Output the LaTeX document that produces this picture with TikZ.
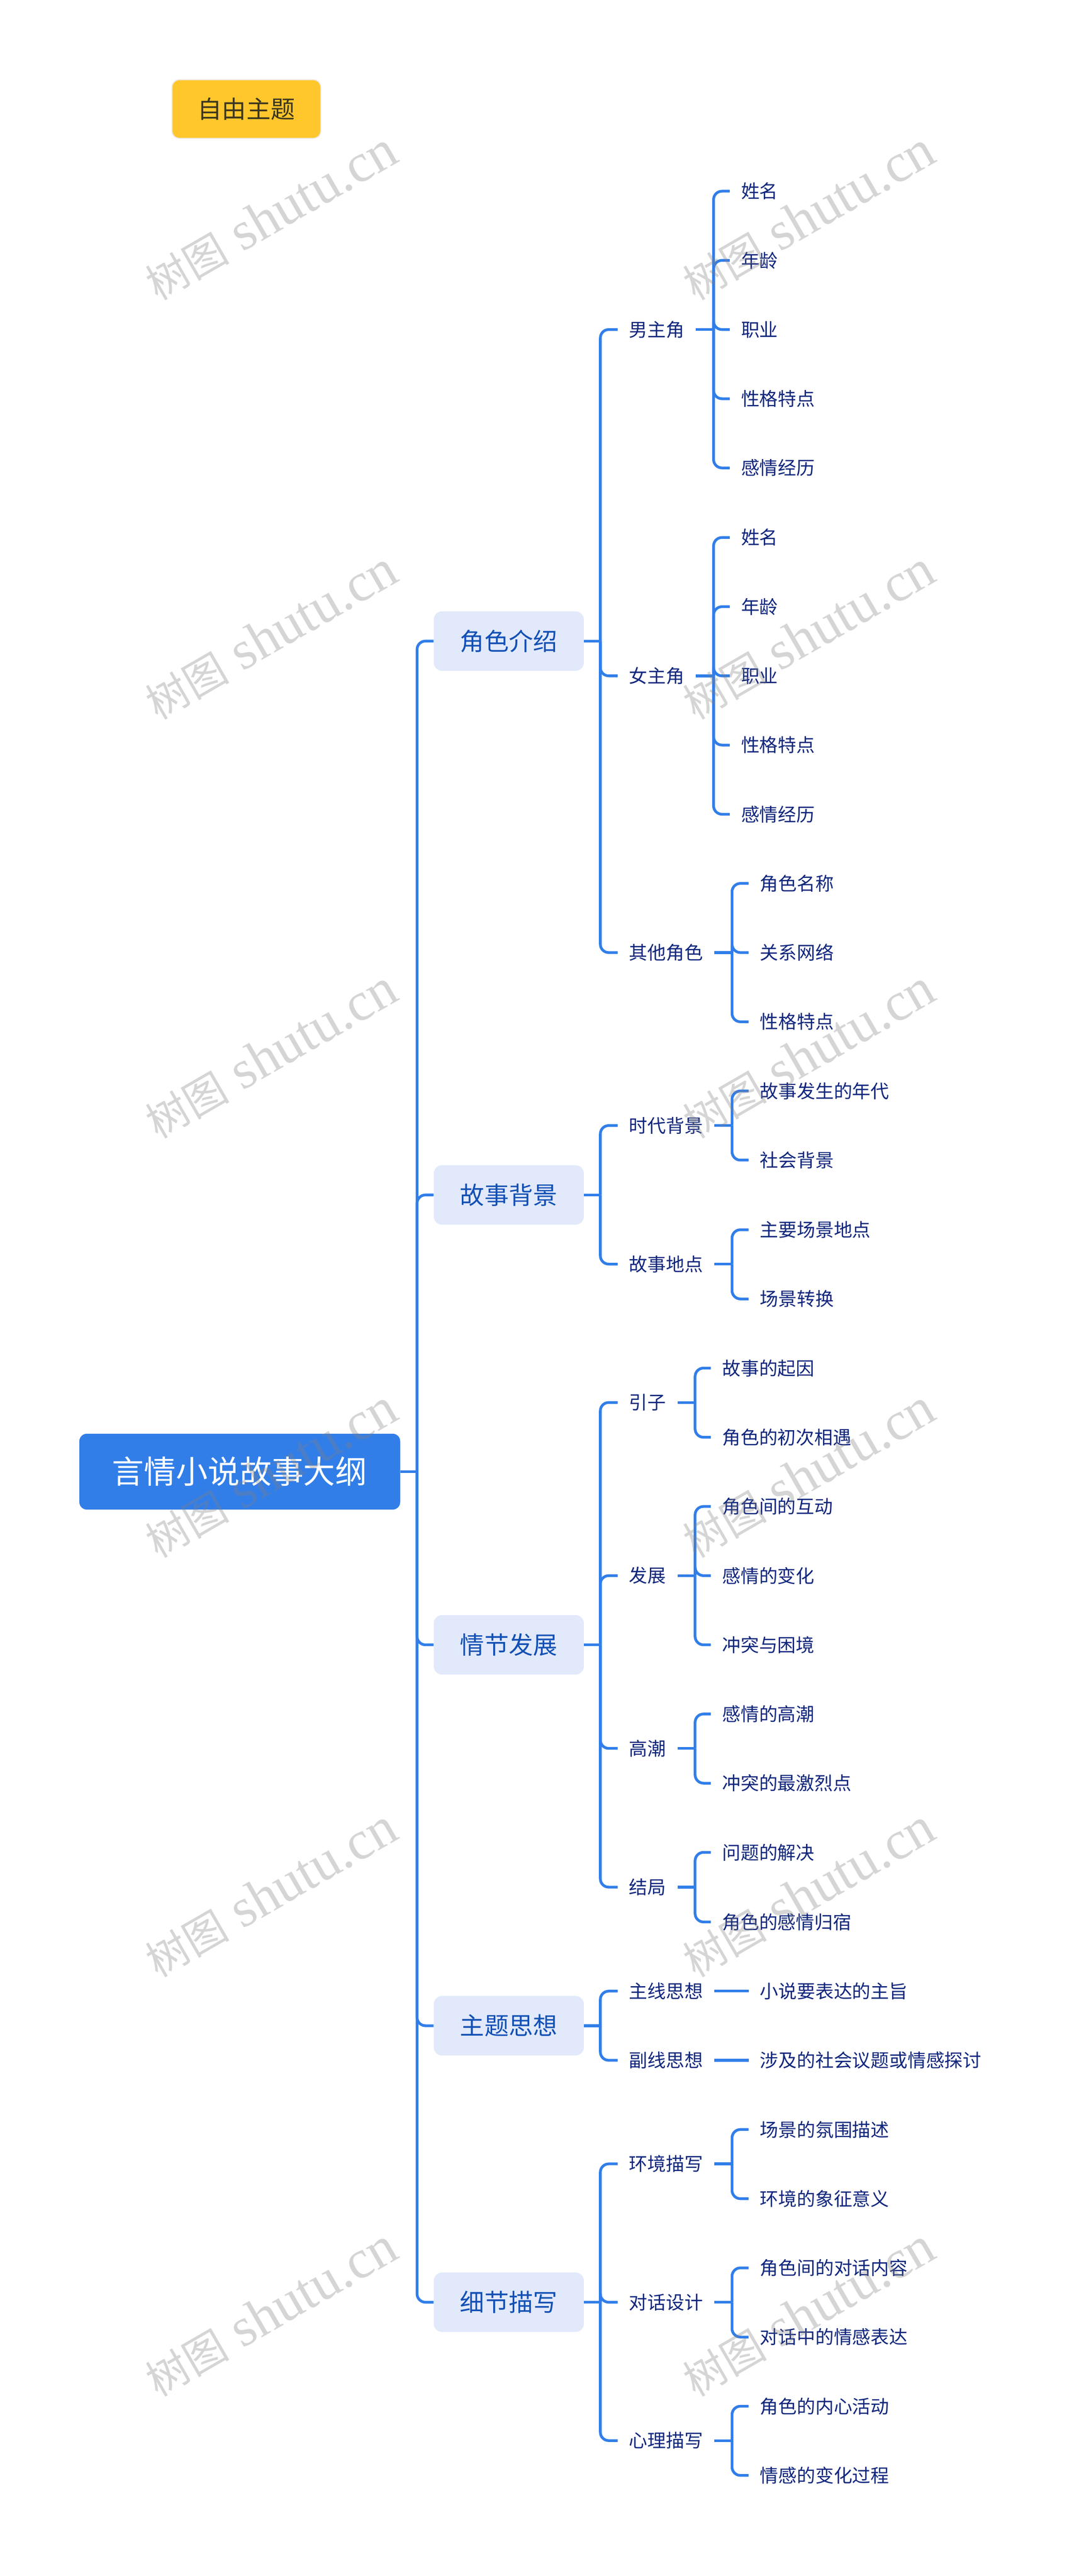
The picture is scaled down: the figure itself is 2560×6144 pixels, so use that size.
\documentclass[tikz,border=0pt]{standalone}
\usepackage{fontspec}
\usepackage{xcolor}
\setmainfont{Noto Sans CJK SC}
\newfontfamily\markfont{Liberation Serif}
\definecolor{linkblue}{HTML}{317EE9}
\definecolor{panelblue}{HTML}{E2E9FB}
\definecolor{midblue}{HTML}{1250B4}
\definecolor{inkblue}{HTML}{10267C}
\definecolor{tagyellow}{HTML}{FFC72C}
\definecolor{tagink}{HTML}{3B3620}
\tikzset{
  rootbox/.style={anchor=west, fill=linkblue, text=white, rounded corners=18pt,
    minimum width=765pt, minimum height=181pt, inner sep=0pt, font=\fontsize{76}{90}\selectfont},
  topicbox/.style={anchor=west, fill=panelblue, text=midblue, rounded corners=20pt,
    minimum width=358pt, minimum height=142pt, inner sep=0pt, font=\fontsize{58}{68}\selectfont},
  subbox/.style={anchor=west, text=inkblue, inner xsep=27pt, inner ysep=0pt,
    font=\fontsize{44}{54}\selectfont},
  leafbox/.style={subbox},
  tagbox/.style={fill=tagyellow, draw=black!8, line width=2.5pt, text=tagink, rounded corners=18pt,
    minimum width=355pt, minimum height=140pt, inner sep=0pt, font=\fontsize{58}{68}\selectfont},
  link/.style={draw=linkblue, line width=6.5pt},
  branch/.style={link, rounded corners=20pt},
  shuimark/.style={text=gray, opacity=.33, rotate=30, inner sep=0pt, font=\fontsize{100}{130}\selectfont}
}
\newcommand{\markline}{树图{\markfont\fontsize{130}{130}\selectfont\ shutu.cn}}
\begin{document}
\begin{tikzpicture}[x=1pt, y=-1pt]
  \useasboundingbox (0,0) rectangle (2560,6144);

  \node [tagbox] (tag) at (587.5,260) {自由主题};
  \node [rootbox] (root) at (189,3510) {言情小说故事大纲};

  \node [topicbox] (role) at (1034,1529) {角色介绍};
  \node [topicbox] (setting) at (1034,2850) {故事背景};
  \node [topicbox] (plot) at (1034,3923) {情节发展};
  \node [topicbox] (theme) at (1034,4831.5) {主题思想};
  \node [topicbox] (detail) at (1034,5491) {细节描写};

  \node [subbox] (hero) at (1473,786) {男主角};
  \node [subbox] (heroine) at (1473,1612) {女主角};
  \node [subbox] (others) at (1473,2272) {其他角色};
  \node [subbox] (era) at (1473,2684.5) {时代背景};
  \node [subbox] (place) at (1473,3015) {故事地点};
  \node [subbox] (intro) at (1473,3345) {引子};
  \node [subbox] (grow) at (1473,3758) {发展};
  \node [subbox] (climax) at (1473,4170) {高潮};
  \node [subbox] (ending) at (1473,4501) {结局};
  \node [subbox] (mainline) at (1473,4749) {主线思想};
  \node [subbox] (subline) at (1473,4914) {副线思想};
  \node [subbox] (scene) at (1473,5161) {环境描写};
  \node [subbox] (talk) at (1473,5491) {对话设计};
  \node [subbox] (mind) at (1473,5821) {心理描写};

  \node [leafbox] (hero1) at (1740,456) {姓名};
  \node [leafbox] (hero2) at (1740,621) {年龄};
  \node [leafbox] (hero3) at (1740,786) {职业};
  \node [leafbox] (hero4) at (1740,951) {性格特点};
  \node [leafbox] (hero5) at (1740,1116) {感情经历};
  \node [leafbox] (heroine1) at (1740,1282) {姓名};
  \node [leafbox] (heroine2) at (1740,1447) {年龄};
  \node [leafbox] (heroine3) at (1740,1612) {职业};
  \node [leafbox] (heroine4) at (1740,1777) {性格特点};
  \node [leafbox] (heroine5) at (1740,1942) {感情经历};
  \node [leafbox] (others1) at (1785,2107) {角色名称};
  \node [leafbox] (others2) at (1785,2272) {关系网络};
  \node [leafbox] (others3) at (1785,2437) {性格特点};
  \node [leafbox] (era1) at (1785,2602) {故事发生的年代};
  \node [leafbox] (era2) at (1785,2767) {社会背景};
  \node [leafbox] (place1) at (1785,2933) {主要场景地点};
  \node [leafbox] (place2) at (1785,3098) {场景转换};
  \node [leafbox] (intro1) at (1695,3263) {故事的起因};
  \node [leafbox] (intro2) at (1695,3428) {角色的初次相遇};
  \node [leafbox] (grow1) at (1695,3593) {角色间的互动};
  \node [leafbox] (grow2) at (1695,3758) {感情的变化};
  \node [leafbox] (grow3) at (1695,3923) {冲突与困境};
  \node [leafbox] (climax1) at (1695,4088) {感情的高潮};
  \node [leafbox] (climax2) at (1695,4253) {冲突的最激烈点};
  \node [leafbox] (ending1) at (1695,4418) {问题的解决};
  \node [leafbox] (ending2) at (1695,4584) {角色的感情归宿};
  \node [leafbox] (mainline1) at (1785,4749) {小说要表达的主旨};
  \node [leafbox] (subline1) at (1785,4914) {涉及的社会议题或情感探讨};
  \node [leafbox] (scene1) at (1785,5079) {场景的氛围描述};
  \node [leafbox] (scene2) at (1785,5244) {环境的象征意义};
  \node [leafbox] (talk1) at (1785,5409) {角色间的对话内容};
  \node [leafbox] (talk2) at (1785,5574) {对话中的情感表达};
  \node [leafbox] (mind1) at (1785,5739) {角色的内心活动};
  \node [leafbox] (mind2) at (1785,5904) {情感的变化过程};

  \foreach \parent/\gap/\kids in {
    root/40/{role,setting,plot,theme,detail},
    role/39/{hero,heroine,others},
    setting/39/{era,place},
    plot/39/{intro,grow,climax,ending},
    theme/39/{mainline,subline},
    detail/39/{scene,talk,mind},
    hero/42/{hero1,hero2,hero3,hero4,hero5},
    heroine/42/{heroine1,heroine2,heroine3,heroine4,heroine5},
    others/42/{others1,others2,others3},
    era/42/{era1,era2},
    place/42/{place1,place2},
    intro/42/{intro1,intro2},
    grow/42/{grow1,grow2,grow3},
    climax/42/{climax1,climax2},
    ending/42/{ending1,ending2},
    scene/42/{scene1,scene2},
    talk/42/{talk1,talk2},
    mind/42/{mind1,mind2}} {
    \coordinate (fork) at ([xshift=\gap pt]\parent.east);
    \foreach \kid in \kids
      \draw [branch] (fork) |- (\kid.west);
    \draw [link] (\parent.east) -- (fork);
  }
  \draw [link] (mainline.east) -- (mainline1.west);
  \draw [link] (subline.east) -- (subline1.west);

  \foreach \col in {646,1928}
    \foreach \row in {515,1515,2515,3515,4515,5515}
      \node [shuimark] (mark-\col-\row) at (\col,\row) {\markline};
\end{tikzpicture}
\end{document}
